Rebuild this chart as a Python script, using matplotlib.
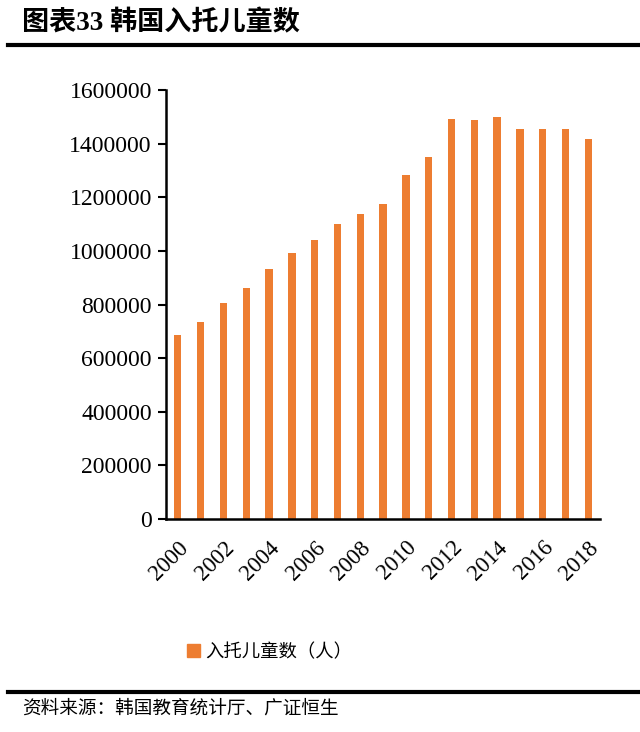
import matplotlib.pyplot as plt
from matplotlib.lines import Line2D
from matplotlib.patches import Patch

years = [str(y) for y in range(2000, 2019)]
children = [686000, 735000, 806000, 860000, 931000, 991000, 1042000, 1101000,
            1138000, 1176000, 1282000, 1350000, 1491000, 1489000, 1500000,
            1456000, 1455000, 1453000, 1418000]
y_ticks = list(range(0, 1600001, 200000))

cjk = ['Liberation Serif', 'Noto Sans CJK SC', 'DejaVu Sans']
orange = '#ED7D31'

fig = plt.figure(figsize=(6.4, 7.32), dpi=100)
ax = fig.add_axes([0.259, 0.291, 0.678, 0.586])

x = list(range(len(years)))
ax.bar(x, children, width=0.32, color=orange)

ax.set_xlim(-0.53, 18.5)
ax.set_ylim(0, 1600000)
ax.set_yticks(y_ticks)
ax.set_yticklabels([str(v) for v in y_ticks], family='Liberation Serif', fontsize=17)
ax.set_xticks(x[::2])
ax.set_xticklabels(years[::2], family='Liberation Serif', fontsize=16.5,
                   rotation=45, ha='right', rotation_mode='anchor')
ax.tick_params(axis='x', length=0, pad=13)
ax.tick_params(axis='y', length=6, width=1.5, direction='out', pad=4)
for s in ['top', 'right']:
    ax.spines[s].set_visible(False)
ax.spines['left'].set_linewidth(1.8)
ax.spines['bottom'].set_linewidth(1.8)

# title and rules
fig.text(0.034, 0.968, '图表33 韩国入托儿童数', family=cjk, fontsize=19.5,
         fontweight='bold', va='center', ha='left')
fig.add_artist(Line2D([0.012, 1.0], [0.938, 0.938], color='black', lw=3))
fig.add_artist(Line2D([0.012, 1.0], [0.055, 0.055], color='black', lw=3))
fig.text(0.034, 0.032, '资料来源：韩国教育统计厅、广证恒生', family=cjk,
         fontsize=13.4, va='center', ha='left')

# legend
fig.legend(handles=[Patch(color=orange, label='入托儿童数（人）')],
           loc='center', bbox_to_anchor=(0.421, 0.109), frameon=False,
           prop={'family': cjk, 'size': 13.2}, handlelength=0.7,
           handleheight=0.7, handletextpad=0.3)

fig.savefig('out.png', dpi=100)
